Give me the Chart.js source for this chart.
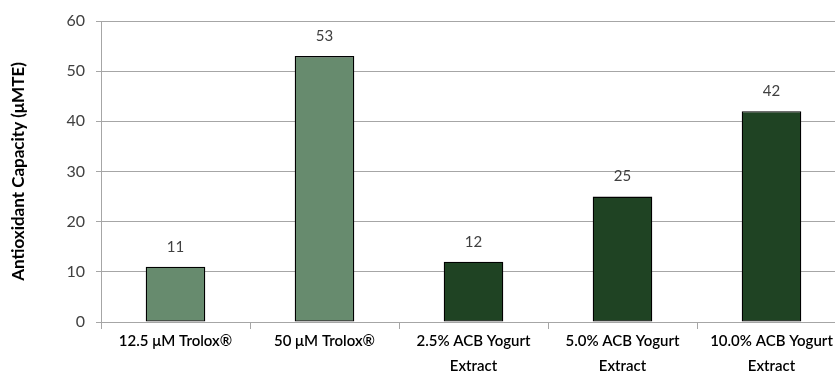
<!DOCTYPE html>
<html>
<head>
<meta charset="utf-8">
<script src="https://cdn.jsdelivr.net/npm/chart.js@4"></script>
<style>
  html, body { margin: 0; padding: 0; background: #fff; overflow: hidden; }
  #wrap { width: 846px; height: 380px; position: relative; }
</style>
</head>
<body>
<div id="wrap"><canvas id="c" width="846" height="380"></canvas></div>
<script>
// Sample labels (multi-line where the label wraps)
const categories = [
  ['12.5 μM Trolox®'],
  ['50 μM Trolox®'],
  ['2.5% ACB Yogurt', 'Extract'],
  ['5.0% ACB Yogurt', 'Extract'],
  ['10.0% ACB Yogurt', 'Extract']
];
// Antioxidant capacity in μM Trolox equivalents
const capacity = [11, 53, 12, 25, 42];
// Trolox standards are lighter green, yogurt extracts darker green
const barColors = ['#678b6e', '#678b6e', '#1f4323', '#1f4323', '#1f4323'];
const yTicks = [0, 10, 20, 30, 40, 50, 60];

const FONT = 'Lato, "Open Sans", sans-serif';

// Writes each bar's value above it
const valueLabels = {
  id: 'valueLabels',
  afterDatasetsDraw(chart) {
    const ctx = chart.ctx;
    const meta = chart.getDatasetMeta(0);
    ctx.save();
    ctx.font = '15px ' + FONT;
    ctx.fillStyle = '#404040';
    ctx.textAlign = 'center';
    ctx.textBaseline = 'middle';
    meta.data.forEach((bar, i) => {
      ctx.fillText(String(chart.data.datasets[0].data[i]), bar.x, bar.y - 20);
    });
    ctx.restore();
  }
};

new Chart(document.getElementById('c'), {
  type: 'bar',
  data: {
    labels: categories,
    datasets: [{
      data: capacity,
      backgroundColor: barColors,
      borderColor: '#000000',
      borderWidth: 1.3,
      borderSkipped: false,
      categoryPercentage: 1,
      barPercentage: 0.4
    }]
  },
  options: {
    responsive: false,
    animation: false,
    layout: { padding: { top: 21, right: 0, left: 0, bottom: 0 } },
    plugins: { legend: { display: false }, tooltip: { enabled: false } },
    scales: {
      x: {
        grid: {
          offset: true,
          drawOnChartArea: false,
          color: '#a6a6a6',
          tickLength: 7
        },
        border: { color: '#a6a6a6' },
        ticks: {
          color: '#000',
          font: { family: FONT, size: 15, weight: '600', lineHeight: 1.65 },
          padding: 0,
          maxRotation: 0,
          autoSkip: false
        },
        afterFit(scale) { scale.height = 58; }
      },
      y: {
        min: 0,
        max: 60,
        afterBuildTicks(scale) { scale.ticks = yTicks.map(v => ({ value: v })); },
        grid: { color: '#a6a6a6', tickLength: 5 },
        border: { color: '#a6a6a6' },
        ticks: {
          color: '#404040',
          font: { family: FONT, size: 16 },
          padding: 11
        },
        title: {
          display: true,
          text: 'Antioxidant Capacity (μMTE)',
          color: '#000',
          font: { family: FONT, size: 17, weight: 'bold' },
          padding: { top: 8, bottom: 0 }
        },
        afterFit(scale) { scale.width = 101; }
      }
    }
  },
  plugins: [valueLabels]
});
</script>
</body>
</html>
